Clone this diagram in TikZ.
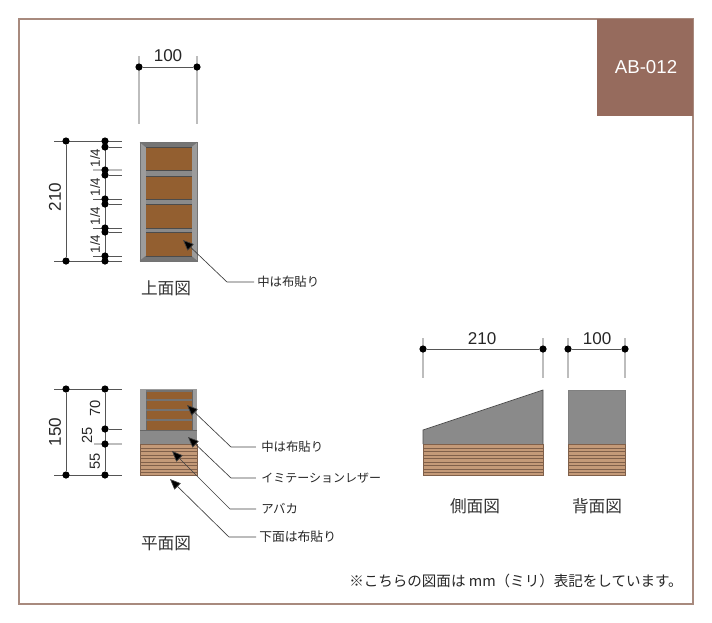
\documentclass[tikz,border=0pt]{standalone}
\usepackage{fontspec}
\setmainfont{Liberation Sans}
\newfontfamily\jpfont{Noto Sans CJK JP}
\usetikzlibrary{arrows.meta,backgrounds}
\definecolor{framebrown}{HTML}{A88A7E}
\definecolor{tabbrown}{HTML}{966B5D}
\definecolor{clothbrown}{HTML}{935F30}
\definecolor{woodbrown}{HTML}{C49A78}
\definecolor{woodline}{HTML}{80604A}
\definecolor{leather}{HTML}{8A8A8A}
\definecolor{extgray}{HTML}{BDBDBD}
\definecolor{dimgray}{HTML}{555555}
\tikzset{
	dimdot/.style={circle,fill=black,inner sep=0pt,minimum size=5.4pt},
	dimline/.style={draw=dimgray,line width=0.6pt},
	extline/.style={draw=extgray,line width=1.1pt},
	thinext/.style={draw=dimgray,line width=0.5pt},
	dimtext/.style={font=\fontsize{12.8}{14}\selectfont,text=black!85,inner sep=0pt},
	smalldim/.style={font=\fontsize{10}{12}\selectfont,text=black!85,inner sep=0pt,rotate=90},
	midtext/.style={font=\fontsize{11}{14}\selectfont,text=black!85,inner sep=0pt,rotate=90},
	viewname/.style={font=\jpfont\fontsize{12.5}{14}\selectfont,text=black!80,inner sep=0pt},
	note/.style={font=\jpfont\fontsize{9.3}{11}\selectfont,text=black!85,inner sep=0pt,anchor=west},
	leader/.style={draw=black!75,line width=0.5pt,-{Triangle[length=8pt,width=6.6pt,fill=black]}},
	frametrim/.style={draw=black!55,line width=0.4pt},
	woodblock/.style={fill=woodbrown,draw=woodline,line width=0.4pt},
	stripe/.style={draw=woodline,line width=0.55pt}
}
\begin{document}
\begin{tikzpicture}[x=0.75pt,y=-0.75pt]
	\useasboundingbox (0,0) rectangle (712,622);
	% outer frame and tab
	\draw[framebrown,line width=0.8pt] (19,19) rectangle (693,604);
	\node[fill=tabbrown,minimum width=72pt,minimum height=72.75pt,inner sep=0pt,text=white,font=\fontsize{14}{16}\selectfont] (tab) at (645,67.5) {\hspace{1.5pt}AB-012};
	
	% top view
	\fill[leather!85!white] (140,142) rectangle (197,261);
	\fill[leather!85!black] (140,142) -- (197,142) -- (191,147) -- (146,147) -- cycle;
	\fill[leather!85!black] (140,261) -- (197,261) -- (191,256) -- (146,256) -- cycle;
	\draw[frametrim] (140,142) rectangle (197,261);
	\draw[frametrim] (140,142) -- (146,147) (197,142) -- (191,147) (140,261) -- (146,256) (197,261) -- (191,256);
	\fill[leather] (146,147) rectangle (191.5,256);
	\foreach \a/\b in {147/170,176/199,204/228,232/256} {
		\fill[clothbrown] (146,\a) rectangle (191.5,\b);
		\draw[black!70,line width=0.5pt] (146,\a) -- (191.5,\a) (146,\b) -- (191.5,\b);
	}
	
	% top view dimensions
	\node[dimdot] (w1) at (139,67) {};
	\node[dimdot] (w2) at (197,67) {};
	\coordinate (w1u) at (139,56);
	\coordinate (w1d) at (139,124);
	\coordinate (w2u) at (197,56);
	\coordinate (w2d) at (197,124);
	\node[dimtext] (w) at (168,56) {100};
	\node[dimdot] (h1) at (66,141) {};
	\node[dimdot] (h2) at (66,261) {};
	\node[dimtext,rotate=90] (h) at (55,197) {210};
	\foreach \n/\y in {a/141,b/147,c/170,d/175,e/199,f/204,g/228,h/232,i/256,j/261} {
		\node[dimdot] (s\n) at (105,\y) {};
		\coordinate (l\n) at (122,\y);
	}
	\coordinate (ka) at (54,141);
	\coordinate (kb) at (54,261);
	\coordinate (kc) at (93,170);
	\coordinate (ke) at (93,199);
	\coordinate (kg) at (93,228);
	\coordinate (ki) at (93,256);
	\begin{pgfonlayer}{background}
		\draw[dimline] (w1) -- (w2);
		\draw[extline] (w1u) -- (w1d);
		\draw[extline] (w2u) -- (w2d);
		\draw[dimline] (h1) -- (h2);
		\draw[thinext] (ka) -- (la);
		\draw[thinext] (kb) -- (lj);
		\draw[thinext] (sb) -- (lb);
		\draw[extline] (kc) -- (lc);
		\draw[thinext] (sd) -- (ld);
		\draw[thinext] (ke) -- (le);
		\draw[thinext] (sf) -- (lf);
		\draw[thinext] (kg) -- (lg);
		\draw[thinext] (sh) -- (lh);
		\draw[thinext] (ki) -- (li);
		\draw[dimline] (sa) -- (sj);
	\end{pgfonlayer}
	\node[smalldim] (q1) at (95,158) {1/4};
	\node[smalldim] (q2) at (95,187) {1/4};
	\node[smalldim] (q3) at (95,216) {1/4};
	\node[smalldim] (q4) at (95,244) {1/4};
	\node[viewname] (topname) at (166,288) {上面図};
	
	% plan view
	\fill[leather!85!white] (140,389) rectangle (197,444);
	\fill[clothbrown] (146,391) rectangle (192,430);
	\fill[leather] (140,430) rectangle (197,444);
	\draw[black!60,line width=0.5pt] (146,390) -- (146,430) (192,390) -- (192,430) (140,430) -- (197,430);
	\foreach \y in {391,400,410,420}
		\draw[draw=black!55,line width=0.8pt] (146,\y) -- (192,\y);
	\draw[woodblock] (140,444) rectangle (197,475);
	\foreach \y in {448,451.5,455,458.5,462,465.5,469,472.5}
		\draw[stripe] (140,\y) -- (197,\y);
	
	% plan view dimensions
	\node[dimdot] (p1) at (66,389) {};
	\node[dimdot] (p2) at (66,475) {};
	\node[dimtext,rotate=90] (p) at (55,432) {150};
	\node[dimdot] (r1) at (105,389) {};
	\node[dimdot] (r2) at (105,429) {};
	\node[dimdot] (r3) at (105,444) {};
	\node[dimdot] (r4) at (105,475) {};
	\coordinate (pa) at (54,389);
	\coordinate (pb) at (122,389);
	\coordinate (pc) at (122,429);
	\coordinate (pd) at (94,444);
	\coordinate (pe) at (122,444);
	\coordinate (pf) at (54,475);
	\coordinate (pg) at (122,475);
	\begin{pgfonlayer}{background}
		\draw[dimline] (p1) -- (p2);
		\draw[dimline] (r1) -- (r4);
		\draw[thinext] (pa) -- (pb);
		\draw[thinext] (r2) -- (pc);
		\draw[extline] (pd) -- (pe);
		\draw[thinext] (pf) -- (pg);
	\end{pgfonlayer}
	\node[midtext] (d70) at (95,408) {70};
	\node[midtext] (d25) at (87,435) {25};
	\node[midtext] (d55) at (95,461) {55};
	\node[viewname] (planname) at (166,544) {平面図};
	
	% leaders
	\node[note] (n1) at (257,282) {中は布貼り};
	\node[note] (n2) at (261,447) {中は布貼り};
	\node[note,font=\jpfont\fontsize{9}{11}\selectfont] (n3) at (261,478) {イミテーションレザー};
	\node[note] (n4) at (261,509) {アバカ};
	\node[note,font=\jpfont\fontsize{9.6}{11}\selectfont] (n5) at (259,537) {下面は布貼り};
	\coordinate (e1) at (254,282);
	\coordinate (e2) at (256,447);
	\coordinate (e3) at (256,478);
	\coordinate (e4) at (256,509);
	\coordinate (e5) at (256,537);
	\coordinate (c1) at (227,282);
	\coordinate (c2) at (231,447);
	\coordinate (c3) at (231,478);
	\coordinate (c4) at (230,509);
	\coordinate (c5) at (229,537);
	\coordinate (a1) at (183,240);
	\coordinate (a2) at (187,405);
	\coordinate (a3) at (188,437);
	\coordinate (a4) at (172,451);
	\coordinate (a5) at (170,479);
	\draw[leader] (e1) -- (c1) -- (a1);
	\draw[extline] (e2) -- (c2);
	\draw[leader] (c2) -- (a2);
	\draw[extline] (e3) -- (c3);
	\draw[leader] (c3) -- (a3);
	\draw[leader] (e4) -- (c4) -- (a4);
	\draw[leader] (e5) -- (c5) -- (a5);
	
	% side view
	\fill[leather] (423,430) -- (543,390) -- (543,444) -- (423,444) -- cycle;
	\draw[black!70,line width=0.5pt] (423,444) -- (423,430) -- (543,390) -- (543,444);
	\draw[woodblock] (423,444) rectangle (543,475);
	\foreach \y in {448,451.5,455,458.5,462,465.5,469,472.5}
		\draw[stripe] (423,\y) -- (543,\y);
	\node[dimdot] (v1) at (423,349) {};
	\node[dimdot] (v2) at (543,349) {};
	\coordinate (v1u) at (423,338);
	\coordinate (v1d) at (423,378);
	\coordinate (v2u) at (543,338);
	\coordinate (v2d) at (543,378);
	\begin{pgfonlayer}{background}
		\draw[extline] (v1u) -- (v1d);
		\draw[extline] (v2u) -- (v2d);
		\draw[dimline] (v1) -- (v2);
	\end{pgfonlayer}
	\node[dimtext] (v) at (482,339) {210};
	\node[viewname] (sidename) at (475,506) {側面図};
	
	% back view
	\fill[leather] (568,390) rectangle (625,444);
	\draw[black!50,line width=0.4pt] (568,390) rectangle (625,444);
	\draw[woodblock] (568,444) rectangle (625,475);
	\foreach \y in {448,451.5,455,458.5,462,465.5,469,472.5}
		\draw[stripe] (568,\y) -- (625,\y);
	\node[dimdot] (b1) at (568,349) {};
	\node[dimdot] (b2) at (625,349) {};
	\coordinate (b1u) at (568,338);
	\coordinate (b1d) at (568,378);
	\coordinate (b2u) at (625,338);
	\coordinate (b2d) at (625,378);
	\begin{pgfonlayer}{background}
		\draw[extline] (b1u) -- (b1d);
		\draw[extline] (b2u) -- (b2d);
		\draw[dimline] (b1) -- (b2);
	\end{pgfonlayer}
	\node[dimtext] (b) at (597,339) {100};
	\node[viewname] (backname) at (597,506) {背面図};
	
	% footnote
	\node[font=\jpfont\fontsize{10.9}{12}\selectfont,text=black!85,inner sep=0pt,anchor=west] (foot) at (349,581) {※こちらの図面は mm（ミリ）表記をしています。};
\end{tikzpicture}
\end{document}
